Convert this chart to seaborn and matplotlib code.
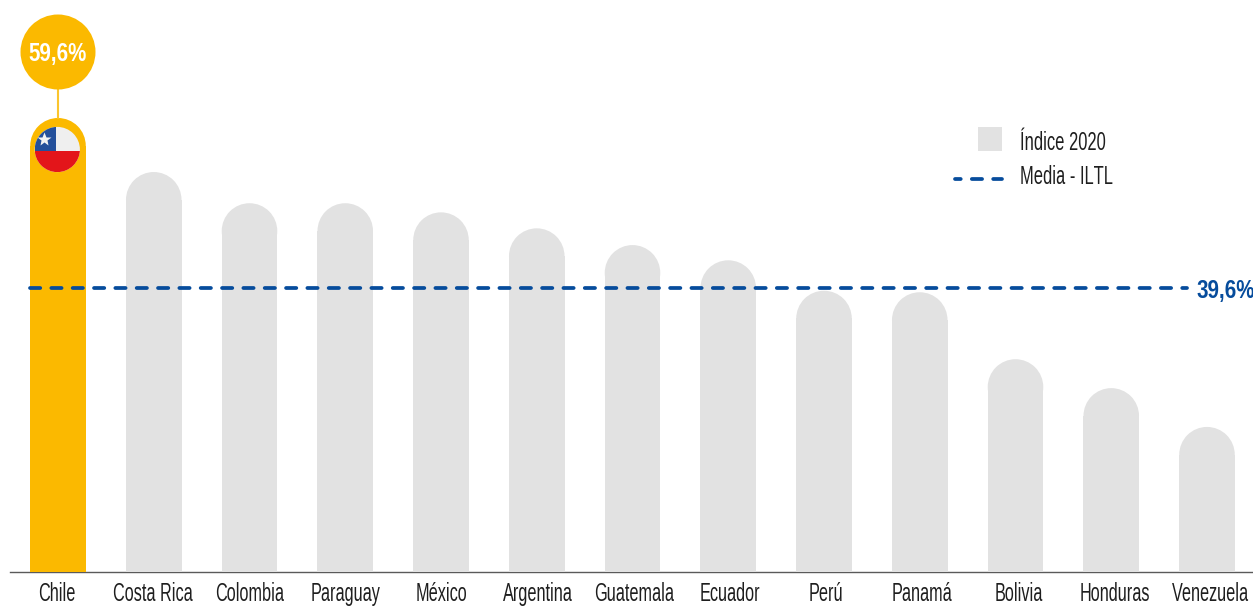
import numpy as np
import pandas as pd
import matplotlib
matplotlib.use("Agg")
import matplotlib.pyplot as plt
from matplotlib import font_manager as fm
from matplotlib.patches import Ellipse, Circle, Rectangle, Patch
from matplotlib.lines import Line2D
from matplotlib.legend_handler import HandlerBase
from matplotlib.transforms import IdentityTransform, Affine2D
import seaborn as sns

countries = ["Chile", "Costa Rica", "Colombia", "Paraguay", "México", "Argentina", "Guatemala",
             "Ecuador", "Perú", "Panamá", "Bolivia", "Honduras", "Venezuela"]
index_2020 = [59.6, 52.5, 48.4, 48.4, 47.2, 45.1, 42.9, 40.9, 36.9, 36.7, 27.9, 24.1, 19.0]
highlight = "Chile"
mean_drawn_level = 37.3   # height at which the picture draws the mean line
mean_label = "39,6%"
top_label = "59,6%"
legend_labels = ["Índice 2020", "Media - ILTL"]

YELLOW = "#FBB900"
GREY = "#E2E2E2"
BLUE = "#064C9C"
TEXT = "#1E1E1E"


def condensed_font(weight, factor, family_name):
    """Make a horizontally condensed copy of Liberation Sans so labels stay real text."""
    from fontTools.ttLib import TTFont
    path = fm.findfont(fm.FontProperties(family="Liberation Sans", weight=weight))
    font = TTFont(path)
    glyf = font["glyf"]
    for name in glyf.keys():
        g = glyf[name]
        if g.isComposite():
            for comp in g.components:
                comp.x = int(round(comp.x * factor))
        elif g.numberOfContours > 0:
            coords = g.coordinates
            for k in range(len(coords)):
                x, y = coords[k]
                coords[k] = (int(round(x * factor)), y)
        if hasattr(g, "program"):
            g.program.fromBytecode(b"")
    for name in glyf.keys():
        glyf[name].recalcBounds(glyf) if glyf[name].numberOfContours else None
    hmtx = font["hmtx"]
    for name, (adv, lsb) in list(hmtx.metrics.items()):
        hmtx.metrics[name] = (int(round(adv * factor)), int(round(lsb * factor)))
    for tag in ("kern", "GPOS", "GSUB", "fpgm", "prep", "cvt ", "hdmx", "VDMX", "LTSH", "gasp"):
        if tag in font:
            del font[tag]
    style = "Bold" if weight == "bold" else "Regular"
    for rec in font["name"].names:
        if rec.nameID in (1, 16):
            rec.string = family_name
        elif rec.nameID in (4, 18):
            rec.string = f"{family_name} {style}"
        elif rec.nameID == 6:
            rec.string = f"{family_name.replace(' ', '')}-{style}"
    out = f"{family_name.replace(' ', '')}-{style}.ttf"
    font.save(out)
    fm.fontManager.addfont(out)
    return fm.FontProperties(fname=out)


sns.set_style("white")
FP_REG = condensed_font("normal", 0.63, "Cond Label")
FP_BOLD = condensed_font("bold", 0.82, "Cond Label")
plt.rcParams["font.family"] = ["Cond Label", "DejaVu Sans"]

W, H = 1253, 607
fig = plt.figure(figsize=(W / 100, H / 100), dpi=100, facecolor="white")
base_px = 571.5
left_px, right_px = 10, 1253
ax = fig.add_axes([left_px / W, (H - base_px) / H, (right_px - left_px) / W, base_px / H])
ax.patch.set_alpha(0)

df = pd.DataFrame({"country": countries, "value": index_2020})
palette = {c: (YELLOW if c == highlight else GREY) for c in countries}
bar_width = 0.58
sns.barplot(data=df, x="country", y="value", hue="country", palette=palette, dodge=False,
            legend=False, width=bar_width, saturation=1, ax=ax)

step_px = 95.75
ax.set_xlim((left_px - 58) / step_px, (right_px - 58) / step_px)
px_per_unit = 453.5 / 59.6
ax.set_ylim(0, base_px / px_per_unit)

# rounded tops: shorten each bar by its cap radius and crown it with an ellipse that is round in pixels
ry = (bar_width / 2) * step_px / px_per_unit
for bar in list(ax.patches):
    h = bar.get_height()
    x = bar.get_x() + bar.get_width() / 2
    bar.set_height(h - ry)
    bar.set_linewidth(0)
    ax.add_patch(Ellipse((x, h - ry), bar.get_width(), 2 * ry, facecolor=bar.get_facecolor(),
                         edgecolor="none", zorder=bar.get_zorder()))

# mean line
line_kw = dict(color=BLUE, lw=2.7, dash_capstyle="round")
dash = (2.73, 2.96)
ax.plot([-bar_width / 2, 11.79], [mean_drawn_level, mean_drawn_level], zorder=5,
        linestyle=(0, dash), **line_kw)
ax.annotate(mean_label, xy=(11.79, mean_drawn_level), xytext=(7, -2.5), textcoords="offset points",
            color=BLUE, fontsize=18, fontweight="bold", va="center", ha="left",
            annotation_clip=False, clip_on=False)

# axis styling
for s in ("top", "left", "right"):
    ax.spines[s].set_visible(False)
ax.spines["bottom"].set_color("#5A5A5A")
ax.spines["bottom"].set_linewidth(1.0)
ax.spines["bottom"].set_zorder(0.5)
ax.set_xlabel("")
ax.set_ylabel("")
ax.set_yticks([])
ax.tick_params(axis="x", length=0, pad=21.5, labelsize=18.5, labelcolor=TEXT)
# the picture's labels share one baseline and drift slightly to the right of their bars
for k, lab in enumerate(ax.get_xticklabels()):
    lab.set_va("baseline")
    lab.set_transform(lab.get_transform() + Affine2D().translate(-1 + 0.4 * k, 0))

# callout over the highlighted bar
fig.canvas.draw()
i0 = countries.index(highlight)
cx, top_y = ax.transData.transform((i0, index_2020[i0]))
tr = IdentityTransform()
ax.add_line(Line2D([cx, cx], [top_y, top_y + 30], transform=tr, color="#FBC52E", lw=1.5, zorder=6))
ax.add_patch(Circle((cx, top_y + 66), 37.5, transform=tr, facecolor=YELLOW, edgecolor="none",
                    clip_on=False, zorder=7))
ax.text(cx, top_y + 64, top_label, transform=tr, color="white", fontsize=18, fontweight="bold",
        ha="center", va="center", zorder=8)

# flag badge
fx, fy, fr = cx - 0.7, top_y - 31.5, 22.6
disc = Circle((fx, fy), fr, transform=tr, facecolor="#EFEFEF", edgecolor="none", zorder=7)
ax.add_patch(disc)
for (x0, y0, w, h), col in [((fx - fr, fy - fr, 2 * fr, fr - 1.5), "#E3151A"),
                            ((fx - fr, fy - 1.5, fr - 1.3, fr + 1.5), "#24509B")]:
    r = Rectangle((x0, y0), w, h, transform=tr, facecolor=col, edgecolor="none", zorder=8)
    ax.add_patch(r)
    r.set_clip_path(disc)
ax.add_line(Line2D([fx - 13.5], [fy + 10.5], transform=tr, marker="*", ms=10, mfc="#F2F2F2",
                   mec="none", linestyle="none", zorder=9))


# legend: its handles sit a little off the text rows, as in the picture
class SquareRight(HandlerBase):
    def create_artists(self, legend, orig, xd, yd, width, height, fontsize, trans):
        side = 24 * 0.72
        y = height / 2 - side / 2 - yd + 2 * 0.72
        return [Rectangle((width - side - xd, y), side, side, facecolor=orig.get_facecolor(),
                          edgecolor="none", transform=trans)]


class LineLow(HandlerBase):
    def create_artists(self, legend, orig, xd, yd, width, height, fontsize, trans):
        y = height / 2 - yd - 4 * 0.72
        ln = Line2D([-xd, width - xd], [y, y], transform=trans,
                    color=orig.get_color(), lw=orig.get_linewidth(), dash_capstyle="round")
        ln.set_linestyle((1.2, dash))
        return [ln]


handles = [Patch(facecolor=GREY), Line2D([], [], **line_kw)]
fs = 18.8
leg = fig.legend(handles, legend_labels,
                 handler_map={Patch: SquareRight(), Line2D: LineLow()}, frameon=False,
                 fontsize=fs, handlelength=47 * 0.72 / fs, handletextpad=18 * 0.72 / fs,
                 labelspacing=0.40, borderpad=0, borderaxespad=0, labelcolor=TEXT,
                 loc="upper left", bbox_to_anchor=(955 / W, 1 - 131 / H))

fig.savefig("out.png", dpi=100, facecolor="white")
